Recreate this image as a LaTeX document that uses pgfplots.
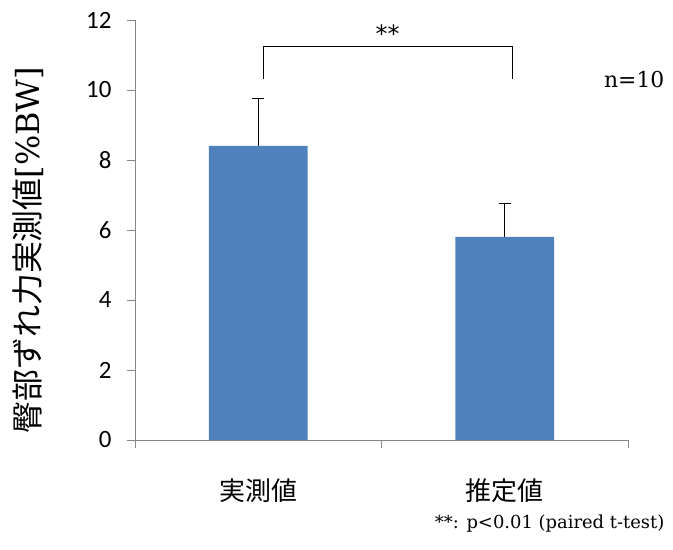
\documentclass[border=0pt]{standalone}
\usepackage{pgfplots}
\pgfplotsset{compat=1.18}
\usepackage{fontspec}
\setmainfont{DejaVu Serif}
\newfontfamily\cjk{Noto Sans CJK JP}
\newfontfamily\calibri{Carlito}
\newfontfamily\dsans{DejaVu Sans}
\definecolor{barblue}{HTML}{4F81BD}
\definecolor{axgray}{HTML}{868686}
\begin{document}
\begin{tikzpicture}
\begin{axis}[
  at={(0,0)}, anchor=south west,
  scale only axis, width=493bp, height=420bp,
  xmin=-0.5, xmax=1.5, ymin=0, ymax=12,
  axis x line=bottom, axis y line=left,
  axis line style={axgray, -, line width=0.8pt},
  xtick={-0.5,0.5,1.5}, xticklabels={},
  extra x ticks={0,1},
  extra x tick labels={{\cjk 実測値},{\cjk 推定値}},
  extra x tick style={major tick length=0pt,
    xticklabel style={font=\fontsize{26}{30}\selectfont, yshift=-35bp}},
  ytick={0,2,...,12},
  tick align=outside,
  major tick length=8bp,
  tick style={axgray, line width=0.8pt},
  /pgf/number format/assume math mode=true,
  yticklabel style={font=\calibri\fontsize{25}{28}\selectfont, xshift=-12bp},
  ylabel={{\cjk 臀部ずれ力実測値}[\%BW]},
  ylabel style={font=\fontsize{32}{36}\selectfont, at={(axis description cs:-0.217,0.452)}, anchor=center},
  clip=false,
]
\addplot[ybar, bar width=0.4, fill=barblue, draw=none,
  error bars/.cd, y dir=plus, y explicit,
  error bar style={black, line width=0.8pt},
  error mark options={rotate=90, black, mark size=6bp, line width=0.8pt}]
  coordinates {(0,8.4) +- (0,1.37) (1,5.8) +- (0,0.97)};
\addplot[black, line width=1.2pt, sharp plot, mark=none]
  coordinates {(0.02,10.3) (0.02,11.25) (1.03,11.25) (1.03,10.3)};
\node[font=\dsans\fontsize{24}{28}\selectfont] at (axis cs:0.525,11.62) {**};
\node[anchor=east, font=\fontsize{22}{26}\selectfont] at (axis cs:1.662,10.29) {n=10};
\node[anchor=east, font=\fontsize{18}{22}\selectfont] at (axis cs:1.662,-2.4) {**: p<0.01 (paired t-test)};
\end{axis}
\pgfresetboundingbox
\path[use as bounding box] (-135bp,-110bp) rectangle (538bp,440bp);
\end{tikzpicture}
\end{document}
